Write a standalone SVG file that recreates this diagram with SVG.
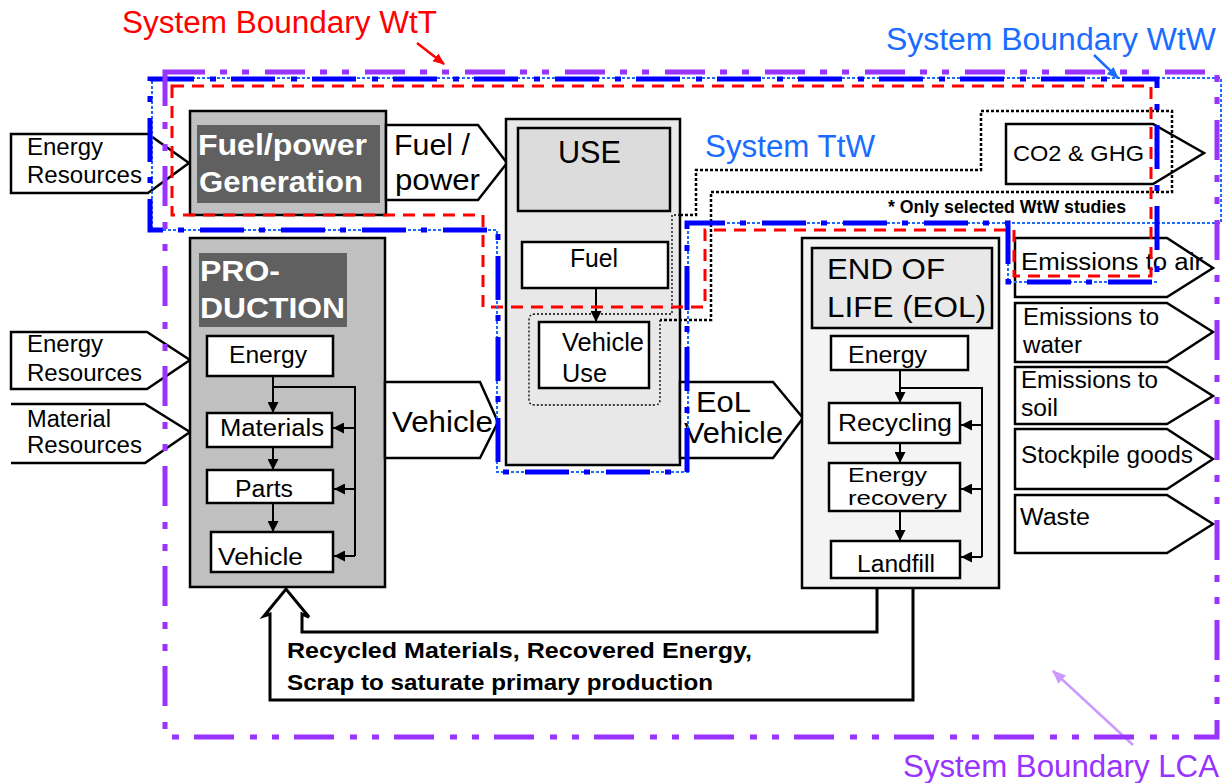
<svg xmlns="http://www.w3.org/2000/svg" width="1231" height="783" viewBox="0 0 1231 783">
<defs>
<style>
.t{font-family:"Liberation Sans",Arial,sans-serif;fill:#000}
.w{font-family:"Liberation Sans",Arial,sans-serif;fill:#fff;font-weight:bold}
.n{font-family:"Liberation Sans Narrow","Liberation Sans",Arial,sans-serif;font-weight:bold;fill:#000}
.box{fill:#fff;stroke:#000;stroke-width:2.5}
.pent{fill:#fff;stroke:#000;stroke-width:2.5;stroke-linejoin:miter}
.ln{fill:none;stroke:#000;stroke-width:2}
.red{fill:none;stroke:#ff0000;stroke-width:3;stroke-dasharray:12 8}
.blue{fill:none;stroke:#0000ff;stroke-width:5;stroke-dasharray:44 16 6 15}
.lblue{fill:none;stroke:#1a6cff;stroke-width:2;stroke-dasharray:3 2}
.purple{fill:none;stroke:#9933ff;stroke-width:5;stroke-dasharray:40 15 7 15 7 16}
.dotk{fill:none;stroke:#000;stroke-width:2.5;stroke-dasharray:3 2}
.dott{fill:none;stroke:#000;stroke-width:1.3;stroke-dasharray:2 2}
</style>
<marker id="ah" viewBox="0 0 10 10" refX="10" refY="5" markerWidth="11" markerHeight="11" markerUnits="userSpaceOnUse" orient="auto">
<path d="M0,0 L10,5 L0,10 Z" fill="#000"/>
</marker>
<marker id="ahr" viewBox="0 0 10 10" refX="9" refY="5" markerWidth="12" markerHeight="12" markerUnits="userSpaceOnUse" orient="auto">
<path d="M0,1 L10,5 L0,9 Z" fill="#ff0000"/>
</marker>
<marker id="ahb" viewBox="0 0 10 10" refX="9" refY="5" markerWidth="12" markerHeight="12" markerUnits="userSpaceOnUse" orient="auto">
<path d="M0,1 L10,5 L0,9 Z" fill="#1a6cff"/>
</marker>
<marker id="ahp" viewBox="0 0 10 10" refX="9" refY="5" markerWidth="14" markerHeight="14" markerUnits="userSpaceOnUse" orient="auto">
<path d="M0,1 L10,5 L0,9 Z" fill="#cc99ff"/>
</marker>
</defs>
<rect width="1231" height="783" fill="#fff"/>

<!-- Titles -->
<g id="titles">
<text x="122" y="33" font-size="31" fill="#ff0000" font-family="Liberation Sans,Arial,sans-serif" textLength="315" lengthAdjust="spacingAndGlyphs">System Boundary WtT</text>
<text x="886" y="50" font-size="31" fill="#1a6cff" font-family="Liberation Sans,Arial,sans-serif" textLength="330" lengthAdjust="spacingAndGlyphs">System Boundary WtW</text>
<text x="705" y="157" font-size="31" fill="#1a6cff" font-family="Liberation Sans,Arial,sans-serif" textLength="170" lengthAdjust="spacingAndGlyphs">System TtW</text>
<text x="903" y="777" font-size="31" fill="#9933ff" font-family="Liberation Sans,Arial,sans-serif" textLength="316" lengthAdjust="spacingAndGlyphs">System Boundary LCA</text>
<text x="888" y="213" font-size="19" class="n" textLength="238" lengthAdjust="spacingAndGlyphs">* Only selected WtW studies</text>
<line x1="417" y1="43" x2="444" y2="64" stroke="#ff0000" stroke-width="2.5" marker-end="url(#ahr)"/>
<line x1="1094" y1="55" x2="1118" y2="78" stroke="#1a6cff" stroke-width="2.5" marker-end="url(#ahb)"/>
<line x1="1133" y1="745" x2="1053" y2="671" stroke="#cc99ff" stroke-width="2.5" marker-end="url(#ahp)"/>
</g>

<!-- Input resources -->
<g id="energy-resources-1">
<path class="pent" d="M11,134 H148 L189,163 L148,193 H11 Z"/>
<text class="t" x="27" y="155" font-size="23" textLength="76" lengthAdjust="spacingAndGlyphs">Energy</text>
<text class="t" x="27" y="183" font-size="23" textLength="115" lengthAdjust="spacingAndGlyphs">Resources</text>
</g>
<g id="energy-resources-2">
<path class="pent" d="M11,332 H147 L190,360 L147,389 H11 Z"/>
<text class="t" x="27" y="352" font-size="23" textLength="76" lengthAdjust="spacingAndGlyphs">Energy</text>
<text class="t" x="27" y="381" font-size="23" textLength="115" lengthAdjust="spacingAndGlyphs">Resources</text>
</g>
<g id="material-resources">
<path class="pent" d="M11,404 H145 L190,432 L145,463 H11"/>
<text class="t" x="27" y="427" font-size="23" textLength="84" lengthAdjust="spacingAndGlyphs">Material</text>
<text class="t" x="27" y="453" font-size="23" textLength="115" lengthAdjust="spacingAndGlyphs">Resources</text>
</g>

<!-- Fuel/power generation -->
<g id="fuel-power-generation">
<rect x="190" y="111" width="196" height="104" fill="#c0c0c0" stroke="#000" stroke-width="2.5"/>
<rect x="197" y="125" width="183" height="78" fill="#606060"/>
<text class="w" x="198" y="155" font-size="29" textLength="169" lengthAdjust="spacingAndGlyphs">Fuel/power</text>
<text class="w" x="199" y="192" font-size="29" textLength="164" lengthAdjust="spacingAndGlyphs">Generation</text>
</g>
<g id="fuel-power-arrow">
<path class="pent" d="M386,125 H478 L507,163 L478,200 H386 Z"/>
<text class="t" x="394" y="155" font-size="29" textLength="76" lengthAdjust="spacingAndGlyphs">Fuel /</text>
<text class="t" x="395" y="190" font-size="29" textLength="85" lengthAdjust="spacingAndGlyphs">power</text>
</g>

<!-- Production -->
<g id="production">
<rect x="190" y="238" width="195" height="349" fill="#c0c0c0" stroke="#000" stroke-width="2.5"/>
<rect x="199" y="253" width="148" height="74" fill="#606060"/>
<text class="w" x="200" y="281" font-size="30" textLength="80" lengthAdjust="spacingAndGlyphs">PRO-</text>
<text class="w" x="200" y="318" font-size="30" textLength="145" lengthAdjust="spacingAndGlyphs">DUCTION</text>
<rect class="box" x="207" y="336" width="126" height="40"/>
<text class="t" x="229" y="363" font-size="23" textLength="78" lengthAdjust="spacingAndGlyphs">Energy</text>
<rect class="box" x="207" y="413" width="125" height="34"/>
<text class="t" x="220" y="436" font-size="23" textLength="104" lengthAdjust="spacingAndGlyphs">Materials</text>
<rect class="box" x="207" y="470" width="126" height="33"/>
<text class="t" x="235" y="497" font-size="23" textLength="58" lengthAdjust="spacingAndGlyphs">Parts</text>
<rect class="box" x="211" y="532" width="122" height="40"/>
<text class="t" x="218" y="565" font-size="23" textLength="85" lengthAdjust="spacingAndGlyphs">Vehicle</text>
</g>
<g id="vehicle-arrow">
<path class="pent" d="M385,382 H480 L498,422 L480,458 H385 Z"/>
<text class="t" x="392" y="432" font-size="29" textLength="101" lengthAdjust="spacingAndGlyphs">Vehicle</text>
</g>

<!-- Use -->
<g id="use">
<rect x="506" y="119" width="174" height="346" fill="#e8e8e8" stroke="#000" stroke-width="2.5"/>
<rect x="518" y="128" width="152" height="83" fill="#dcdcdc" stroke="#000" stroke-width="2.5"/>
<text class="t" x="558" y="163" font-size="31" textLength="63" lengthAdjust="spacingAndGlyphs">USE</text>
<rect class="box" x="522" y="242" width="146" height="46"/>
<text class="t" x="570" y="267" font-size="26" textLength="48" lengthAdjust="spacingAndGlyphs">Fuel</text>
<rect class="box" x="539" y="322" width="110" height="66"/>
<text class="t" x="562" y="351" font-size="26" textLength="82" lengthAdjust="spacingAndGlyphs">Vehicle</text>
<text class="t" x="562" y="382" font-size="26" textLength="45" lengthAdjust="spacingAndGlyphs">Use</text>
</g>
<g id="eol-vehicle-arrow">
<path class="pent" d="M680,382 H773 L803,418 L773,458 H680 Z"/>
<text class="t" x="696" y="412" font-size="29" textLength="55" lengthAdjust="spacingAndGlyphs">EoL</text>
<text class="t" x="684" y="443" font-size="29" textLength="99" lengthAdjust="spacingAndGlyphs">Vehicle</text>
</g>

<!-- End of life -->
<g id="end-of-life">
<rect x="802" y="238" width="197" height="350" fill="#f4f4f4" stroke="#000" stroke-width="2.5"/>
<rect x="812" y="248" width="180" height="80" fill="#e8e8e8" stroke="#000" stroke-width="2.5"/>
<text class="t" x="827" y="279" font-size="30" textLength="118" lengthAdjust="spacingAndGlyphs">END OF</text>
<text class="t" x="827" y="317" font-size="30" textLength="159" lengthAdjust="spacingAndGlyphs">LIFE (EOL)</text>
<rect class="box" x="831" y="336" width="137" height="34"/>
<text class="t" x="848" y="363" font-size="23" textLength="79" lengthAdjust="spacingAndGlyphs">Energy</text>
<rect class="box" x="829" y="403" width="131" height="40"/>
<text class="t" x="838" y="431" font-size="23" textLength="114" lengthAdjust="spacingAndGlyphs">Recycling</text>
<rect class="box" x="829" y="463" width="131" height="48"/>
<text class="t" x="848" y="482" font-size="20" textLength="79" lengthAdjust="spacingAndGlyphs">Energy</text>
<text class="t" x="848" y="505" font-size="20" textLength="99" lengthAdjust="spacingAndGlyphs">recovery</text>
<rect class="box" x="831" y="541" width="129" height="37"/>
<text class="t" x="857" y="572" font-size="23" textLength="78" lengthAdjust="spacingAndGlyphs">Landfill</text>
</g>

<!-- Outputs -->
<g id="co2-ghg">
<path class="pent" d="M1006,124 H1153 L1204,153 L1153,184 H1006 Z"/>
<text class="t" x="1013" y="161" font-size="22" textLength="131" lengthAdjust="spacingAndGlyphs">CO2 &amp; GHG</text>
</g>
<g id="emissions-air">
<path class="pent" d="M1015,238 H1167 L1213,268 L1167,297 H1015 Z"/>
<text class="t" x="1021" y="270" font-size="23" textLength="182" lengthAdjust="spacingAndGlyphs">Emissions to air</text>
</g>
<g id="emissions-water">
<path class="pent" d="M1015,303 H1167 L1213,332 L1167,362 H1015 Z"/>
<text class="t" x="1023" y="325" font-size="23" textLength="136" lengthAdjust="spacingAndGlyphs">Emissions to</text>
<text class="t" x="1023" y="353" font-size="23" textLength="59" lengthAdjust="spacingAndGlyphs">water</text>
</g>
<g id="emissions-soil">
<path class="pent" d="M1015,367 H1167 L1213,396 L1167,424 H1015 Z"/>
<text class="t" x="1021" y="388" font-size="23" textLength="137" lengthAdjust="spacingAndGlyphs">Emissions to</text>
<text class="t" x="1021" y="416" font-size="23" textLength="37" lengthAdjust="spacingAndGlyphs">soil</text>
</g>
<g id="stockpile-goods">
<path class="pent" d="M1015,429 H1167 L1213,459 L1167,489 H1015 Z"/>
<text class="t" x="1021" y="463" font-size="23" textLength="172" lengthAdjust="spacingAndGlyphs">Stockpile goods</text>
</g>
<g id="waste">
<path class="pent" d="M1015,495 H1167 L1213,524 L1167,553 H1015 Z"/>
<text class="t" x="1020" y="525" font-size="23" textLength="70" lengthAdjust="spacingAndGlyphs">Waste</text>
</g>

<!-- Connectors -->
<g id="connectors">
<line class="ln" x1="273" y1="376" x2="273" y2="413" marker-end="url(#ah)"/>
<line class="ln" x1="273" y1="447" x2="273" y2="470" marker-end="url(#ah)"/>
<line class="ln" x1="273" y1="503" x2="273" y2="532" marker-end="url(#ah)"/>
<polyline class="ln" points="273,387 355,387 355,556"/>
<line class="ln" x1="355" y1="428" x2="333" y2="428" marker-end="url(#ah)"/>
<line class="ln" x1="355" y1="489" x2="334" y2="489" marker-end="url(#ah)"/>
<line class="ln" x1="355" y1="556" x2="334" y2="556" marker-end="url(#ah)"/>
<line class="ln" x1="596" y1="288" x2="596" y2="322" marker-end="url(#ah)"/>
<line class="ln" x1="900" y1="370" x2="900" y2="403" marker-end="url(#ah)"/>
<line class="ln" x1="900" y1="443" x2="900" y2="463" marker-end="url(#ah)"/>
<line class="ln" x1="900" y1="511" x2="900" y2="541" marker-end="url(#ah)"/>
<polyline class="ln" points="900,388 982,388 982,557"/>
<line class="ln" x1="982" y1="425" x2="961" y2="425" marker-end="url(#ah)"/>
<line class="ln" x1="982" y1="489" x2="961" y2="489" marker-end="url(#ah)"/>
<line class="ln" x1="982" y1="557" x2="961" y2="557" marker-end="url(#ah)"/>
<path d="M877,588 V632 H302 V614 L309,617 L286,589 L264,616 L270,614 V700 H913 V588" fill="none" stroke="#000" stroke-width="3"/>
<text class="n" x="287" y="658" font-size="22" textLength="465" lengthAdjust="spacingAndGlyphs">Recycled Materials, Recovered Energy,</text>
<text class="n" x="287" y="690" font-size="22" textLength="426" lengthAdjust="spacingAndGlyphs">Scrap to saturate primary production</text>
</g>

<!-- Boundaries -->
<g id="boundary-ttw">
<path class="dotk" d="M680,215 H696 V170 H981 V111 H1172 V192 H711 V320 H660"/>
<path class="dott" d="M680,215 H672 V314 H535 Q529,314 529,320 V400 Q529,405 535,405 H655 Q660,405 660,400 V320"/>
</g>
<g id="boundary-wtt">
<path class="red" d="M172,86 H1151 V276 H1014 V230 H705 V307 H483 V215 H172 Z"/>
</g>
<g id="boundary-wtw">
<path class="lblue" d="M152,78 H1221 V223 H688 V472 H497 V230 H152 Z"/>
<path class="lblue" d="M1008,223 V282 H1157"/>
<path class="blue" d="M150,79 H1157 V282 H1008 V223 H687 V472 H498 V230 H150 Z"/>
</g>
<g id="boundary-lca">
<rect class="purple" x="165" y="72" width="1052" height="665"/>
</g>
</svg>
